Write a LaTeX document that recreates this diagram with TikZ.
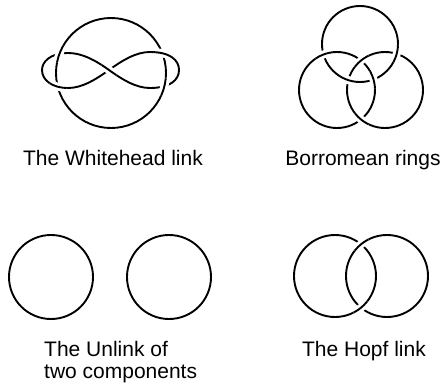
\documentclass[tikz,border=0pt]{standalone}
\usepackage{fontspec}
\setmainfont{Liberation Sans}
\begin{document}
\begin{tikzpicture}[x=1pt,y=-1pt,
  knot/.style={line width=1.9pt, black},
  halo/.style={line width=8pt, white},
  lbl/.style={font=\fontsize{21}{22}\selectfont, inner sep=0pt},
  eightp/.style={insert path={(109,70) .. controls (95,60) and (82,53) .. (68,53)
     .. controls (50,53) and (42,62) .. (42,70) .. controls (42,80) and (52,88) .. (68,88)
     .. controls (82,88) and (95,80) .. (109,70) .. controls (123,60) and (136,52) .. (150,52)
     .. controls (170,52) and (179,60) .. (179,70) .. controls (179,80) and (170,88) .. (150,88)
     .. controls (136,88) and (123,80) .. (109,70)}},
  eightover/.style={insert path={(68,53) .. controls (82,53) and (95,60) .. (109,70)
     .. controls (123,80) and (136,88) .. (150,88)}},
  whc/.style={insert path={(111,73) circle[radius=55]}}
]
\useasboundingbox (0,0) rectangle (440,388);

% ---------- Whitehead link ----------
\draw[knot, whc];
\draw[knot, line cap=round, eightp];
% centre crossing of the eight
\begin{scope}\clip (109,70) circle[radius=9];
  \draw[halo, eightover]; \draw[knot, eightover];
\end{scope}
% circle over the eight
\foreach \p in {(59.5,54),(162.5,87)}{
  \begin{scope}\clip \p circle[radius=9];
    \draw[halo, whc]; \draw[knot, whc];
  \end{scope}}
% eight over the circle
\foreach \p in {(58,87),(162.5,54)}{
  \begin{scope}\clip \p circle[radius=9];
    \draw[halo, eightp]; \draw[knot, eightp];
  \end{scope}}

% ---------- Borromean rings ----------
\tikzset{
  bT/.style={insert path={(360,44) circle[radius=38]}},
  bL/.style={insert path={(337,90) circle[radius=38]}},
  bR/.style={insert path={(385,90) circle[radius=38]}}}
\draw[knot, bT]; \draw[knot, bL]; \draw[knot, bR];
\foreach \p in {(323.4,54.5),(373.6,79.5)}{
  \begin{scope}\clip \p circle[radius=9];
    \draw[halo, bL]; \draw[knot, bL];
  \end{scope}}
\foreach \p in {(396.6,53.9),(348.4,80.1)}{
  \begin{scope}\clip \p circle[radius=9];
    \draw[halo, bT]; \draw[knot, bT];
  \end{scope}}
\foreach \p in {(361,60.5),(361,119.5)}{
  \begin{scope}\clip \p circle[radius=9];
    \draw[halo, bR]; \draw[knot, bR];
  \end{scope}}

% ---------- Unlink ----------
\draw[knot] (51,277) circle[radius=42];
\draw[knot] (169,277) circle[radius=42];

% ---------- Hopf link ----------
\tikzset{
  hL/.style={insert path={(335,276) circle[radius=41]}},
  hR/.style={insert path={(387,276) circle[radius=41]}}}
\draw[knot, hL]; \draw[knot, hR];
\begin{scope}\clip (361,244.3) circle[radius=9];
  \draw[halo, hR]; \draw[knot, hR];
\end{scope}
\begin{scope}\clip (361,307.7) circle[radius=9];
  \draw[halo, hL]; \draw[knot, hL];
\end{scope}

% ---------- Labels ----------
\node[lbl, anchor=base] (wh) at (113,165) {The Whitehead link};
\node[lbl, anchor=base] (bo) at (363,165) {Borromean rings};
\node[lbl, anchor=base west, align=left] (un) at (44,378) {The Unlink of\\two components};
\node[lbl, anchor=base] (ho) at (364,356) {The Hopf link};
\end{tikzpicture}
\end{document}
